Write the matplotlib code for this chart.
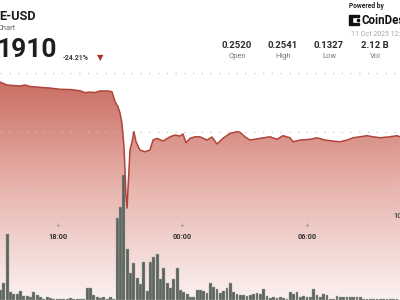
import matplotlib
matplotlib.use("Agg")
import matplotlib.pyplot as plt
import numpy as np
from matplotlib.colors import LinearSegmentedColormap
from matplotlib.patches import Rectangle

plt.rcParams['font.family'] = ['Roboto', 'DejaVu Sans']

# Data (hours since 00:00 of 10 Oct, price in USD)
price_time = [15.20, 15.54, 16.17, 16.41, 16.65, 17.13, 17.61, 18.10, 18.58, 19.06,
              19.30, 19.54, 19.78, 20.02, 20.41, 20.60, 20.75, 20.89, 20.99, 21.08,
              21.18, 21.23, 21.28, 21.33, 21.37, 21.47, 21.57, 21.66, 21.76, 21.95,
              22.19, 22.43, 22.58, 22.77, 23.06, 23.40, 23.64, 23.88, 24.02, 24.17,
              24.36, 24.60, 24.84, 25.18, 25.42, 25.66, 25.95, 26.29, 26.63, 26.77,
              27.01, 27.25, 27.73, 28.22, 28.55, 28.84, 29.18, 29.33, 29.66, 30.14,
              30.48, 30.87, 31.25, 31.59, 31.93, 32.22, 32.55, 32.89, 33.18, 33.52,
              34.00, 34.34, 34.48]
price = [0.2362, 0.2337, 0.2329, 0.2337, 0.2325, 0.2318, 0.2312, 0.2302, 0.2300, 0.2290,
         0.2274, 0.2279, 0.2275, 0.2288, 0.2288, 0.2282, 0.2200, 0.2159, 0.2107, 0.2025,
         0.1830, 0.1639, 0.1420, 0.1327, 0.1475, 0.1803, 0.1871, 0.1954, 0.1871, 0.1803,
         0.1789, 0.1803, 0.1885, 0.1899, 0.1877, 0.1912, 0.1926, 0.1918, 0.1935, 0.1863,
         0.1899, 0.1912, 0.1912, 0.1885, 0.1910, 0.1853, 0.1899, 0.1940, 0.1954, 0.1949,
         0.1912, 0.1885, 0.1899, 0.1912, 0.1891, 0.1921, 0.1904, 0.1871, 0.1885, 0.1891,
         0.1904, 0.1885, 0.1877, 0.1871, 0.1885, 0.1904, 0.1912, 0.1921, 0.1912, 0.1904,
         0.1912, 0.1921, 0.1912]

vol_start = 15.23
vol_step = 0.1606
volume = [5, 8.7, 32.8, 4.2, 3, 3, 4.5, 2, 2, 1.5,
          4.2, 2.5, 1.5, 0.5, 1.7, 1.2, 0.5, 0.3, 0.3, 0.3,
          0.3, 1.0, 0.3, 0.3, 0.5, 0.5, 6.2, 6.2, 2.5, 1.7,
          1.0, 1.7, 0.5, 1.7, 0.5, 41.2, 46.7, 62.5, 25.5, 13.3,
          18.7, 11.2, 8, 19.2, 4.5, 19.2, 21.3, 23, 10.3, 15.8,
          8.3, 5.8, 10.5, 15.8, 5, 3.8, 3, 1.7, 1.3, 5,
          5, 4.7, 3.5, 8.7, 6.7, 5.5, 3.7, 4.7, 5.8, 8.3,
          4.2, 2.8, 2.5, 2.5, 2, 2.5, 2.8, 3.3, 2.8, 5.3,
          2, 0.8, 1.7, 1.2, 1.7, 0.8, 0.3, 4.2, 2.8, 3.8,
          1.7, 2.2, 1.3, 1.7, 5.3, 2.5, 1.7, 3, 2.5, 0.5,
          0.5, 2.2, 1.3, 1.3, 1.3, 1.3, 1.3, 1.3, 1.7, 0.5,
          0.3, 0.3, 0.3, 0.3, 0.3, 0.3, 0.3, 0.3, 0.3, 0.3]
vol_time = vol_start + np.arange(len(volume)) * vol_step

tick_hours = [18, 24, 30]
tick_labels = ['18:00', '00:00', '06:00']
grid_prices = [0.2435, 0.1951, 0.1475, 0.1261]

stat_values = ['0.2520', '0.2541', '0.1327', '2.12 B']
stat_names = ['Open', 'High', 'Low', 'Vol']

x_lo, x_hi = 15.205, 34.482
y_lo, y_hi = 0.0572, 0.3035

fig = plt.figure(figsize=(4, 3), dpi=100)
fig.patch.set_facecolor('white')

def px(x, y):
    return x / 400, 1 - y / 300

# price area with vertical gradient
ax = fig.add_axes([0, 0, 1, 1])
ax.set_xlim(x_lo, x_hi)
ax.set_ylim(y_lo, y_hi)
ax.axis('off')

poly = ax.fill_between(price_time, price, y_lo, color='none')
cmap = LinearSegmentedColormap.from_list('fade', ['#c86a5e', '#e8b5ae', '#fbf2f1'])
grad = np.linspace(0, 1, 256).reshape(-1, 1)
im = ax.imshow(grad, cmap=cmap, aspect='auto', origin='upper',
               extent=[x_lo, x_hi, y_lo, 0.2419], zorder=1)
im.set_clip_path(poly.get_paths()[0], transform=ax.transData)

for g in grid_prices:
    ax.axhline(g, color='#c4c4c4', lw=0.9, ls=(0, (1, 6)), zorder=2)

# volume bars
axv = ax.twinx()
axv.set_ylim(0, 150)
axv.set_xlim(x_lo, x_hi)
axv.axis('off')
axv.bar(vol_time, volume, width=vol_step * 0.82, color='#5d645e',
        edgecolor='#a3a8a3', linewidth=0.3, zorder=3)

# price line on top
axl = ax.twinx()
axl.set_ylim(y_lo, y_hi)
axl.set_xlim(x_lo, x_hi)
axl.axis('off')
axl.plot(price_time, price, color='#b0443a', lw=1.1, zorder=4)

# time ticks
for h, lab in zip(tick_hours, tick_labels):
    axl.plot(h, 0.25, marker='+', ms=2.5, mew=0.5, color='#9a9a9a',
             transform=axl.get_xaxis_transform(), clip_on=False)
    axl.text(h, 0.21, lab, transform=axl.get_xaxis_transform(), ha='center',
             va='center', fontsize=5.3, fontweight='bold', color='#333333')

# header texts
fig.text(*px(-1, 17), 'E-USD', fontsize=9.2, fontweight='bold', color='#1e1e1e', va='center')
fig.text(*px(-2, 28.5), 'Chart', fontsize=5.4, color='#6a6a6a', va='center')
fig.text(*px(-3, 50), '1910', fontsize=19, fontweight='bold', color='#1e1e1e', va='center')
fig.text(*px(63, 58), '-24.21%', fontsize=5, fontweight='bold', color='#3a3a3a', va='center')
fig.text(*px(100.5, 58), '▼', fontsize=6, color='#b0322a', va='center', ha='center')

fig.text(*px(349, 5.5), 'Powered by', fontsize=4.8, fontweight='bold', color='#222222', va='center')
fig.text(*px(362, 20), 'CoinDesk', fontsize=8.3, fontweight='bold', color='#111111', va='center')
fig.text(*px(351, 34), '11 Oct 2025 12:00', fontsize=5, color='#a8a8a8', va='center')

for (x, y, w, h) in [(349, 15, 3, 10), (352, 15, 4, 2), (352, 23, 4, 2),
                     (357, 15, 2, 2), (357, 19, 2, 2), (357, 23, 2, 2)]:
    fig.patches.append(Rectangle((x / 400, 1 - (y + h) / 300), w / 400, h / 300,
                                 transform=fig.transFigure, color='#111111'))

stat_x = [237, 283, 329, 375]
for sx, v, n in zip(stat_x, stat_values, stat_names):
    fig.text(*px(sx, 46), v, fontsize=6.8, fontweight='bold', color='#2a2a2a',
             ha='center', va='center')
    fig.text(*px(sx, 57), n, fontsize=5.4, color='#777777', ha='center', va='center')

fig.text(*px(393, 216.5), '10', fontsize=5.4, fontweight='bold', color='#555555', va='center')

fig.savefig('out.png', dpi=100, facecolor='white')
